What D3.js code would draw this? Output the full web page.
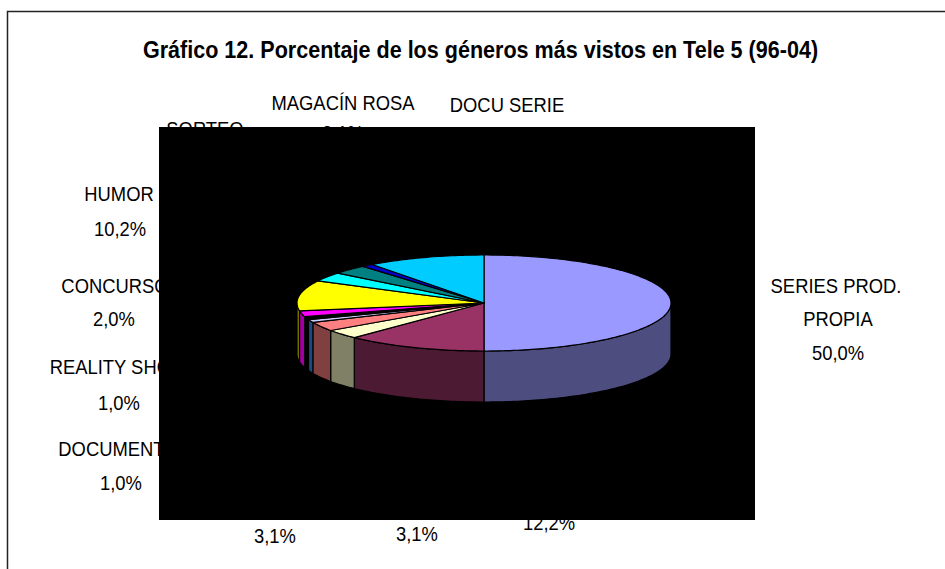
<!DOCTYPE html>
<html><head><meta charset="utf-8">
<script src="https://cdn.jsdelivr.net/npm/d3@7"></script>
<style>html,body{margin:0;background:#fff}svg{display:block}text{font-family:"Liberation Sans",Arial,sans-serif;fill:#000}</style>
</head><body><svg id="c" width="945" height="569"></svg>
<script>
const titleText = "Gráfico 12. Porcentaje de los géneros más vistos en Tele 5 (96-04)";
const sliceValues = [50.0, 12.2, 3.1, 3.1, 1.0, 1.0, 2.0, 10.2, 3.1, 3.1, 1.0, 10.2];
const topColors = ["#9999ff","#993366","#ffffcc","#ff8080","#ccccff","#000000","#ff00ff","#ffff00","#00ffff","#008080","#0000cc","#00ccff"];
const sideColors = ["#4d4d80","#4d1a33","#808066","#804040","#1a4a80","#000000","#a000a0","#808000","#008080","#004040","#000066","#006680"];
const labelNames = ["SERIES PROD.","PROPIA","50,0%","HUMOR","10,2%","CONCURSO","2,0%","REALITY SHOW","1,0%","DOCUMENTAL","1,0%","MAGACÍN ROSA","3,1%","DOCU SERIE","SORTEO","3,1%","3,1%","12,2%"];
const labelX = [836,838,838,119,120,115,114,119,119,122,121,343,343,507,205,275,417,549];
const labelY = [293,326,360,201,236,293,326,374,410,456,490,110,140,112,136,543,541,530];

const svg = d3.select("#c");
const cx=484, cy=303, rx=187, ry=48, depth=51;
const toX = d3.scaleLinear().domain([-1,1]).range([cx-rx,cx+rx]);
const toY = d3.scaleLinear().domain([-1,1]).range([cy-ry,cy+ry]);

svg.append("path").attr("d","M7.5,569V11.5H945").attr("fill","none").attr("stroke","#222").attr("stroke-width",1.5);

function squeezed(sel,sx){sel.attr("transform",function(){return `translate(${+this.getAttribute("data-x")},${+this.getAttribute("data-y")}) scale(${sx},1)`;});}
svg.append("text").attr("data-x",480.5).attr("data-y",57.5).attr("text-anchor","middle")
  .attr("font-weight","bold").attr("font-size",23).text(titleText).call(squeezed,0.9375);
svg.selectAll("text.lab").data(labelNames).join("text").attr("class","lab")
  .attr("data-x",(d,i)=>labelX[i]).attr("data-y",(d,i)=>labelY[i]).attr("text-anchor","middle")
  .attr("font-size",20).text(d=>d).call(squeezed,0.92);

svg.append("rect").attr("x",159).attr("y",127).attr("width",596).attr("height",393).attr("fill","#000");

const arcs = d3.pie().sort(null).value(d=>d)(sliceValues);
const px = a=>toX(Math.sin(a)), py=a=>toY(-Math.cos(a));
const g = svg.append("g").attr("stroke","#000").attr("stroke-width",1.2).attr("stroke-linejoin","round");
function along(a0,a1,off){
  const n=Math.max(2,Math.ceil((a1-a0)/0.02));
  return d3.range(n+1).map(i=>{const a=a0+(a1-a0)*i/n;return [px(a),py(a)+off];});
}
arcs.forEach((d,i)=>{
  const f0=Math.max(d.startAngle,Math.PI/2), f1=Math.min(d.endAngle,Math.PI*1.5);
  if(f1>f0){
    const pts=along(f0,f1,0).concat(along(f0,f1,depth).reverse());
    g.append("path").attr("d",d3.line()(pts)+"Z").attr("fill",sideColors[i]);
  }
});
arcs.forEach((d,i)=>{
  const pts=[[cx,cy]].concat(along(d.startAngle,d.endAngle,0));
  g.append("path").attr("d",d3.line()(pts)+"Z").attr("fill",topColors[i]);
});
</script></body></html>
